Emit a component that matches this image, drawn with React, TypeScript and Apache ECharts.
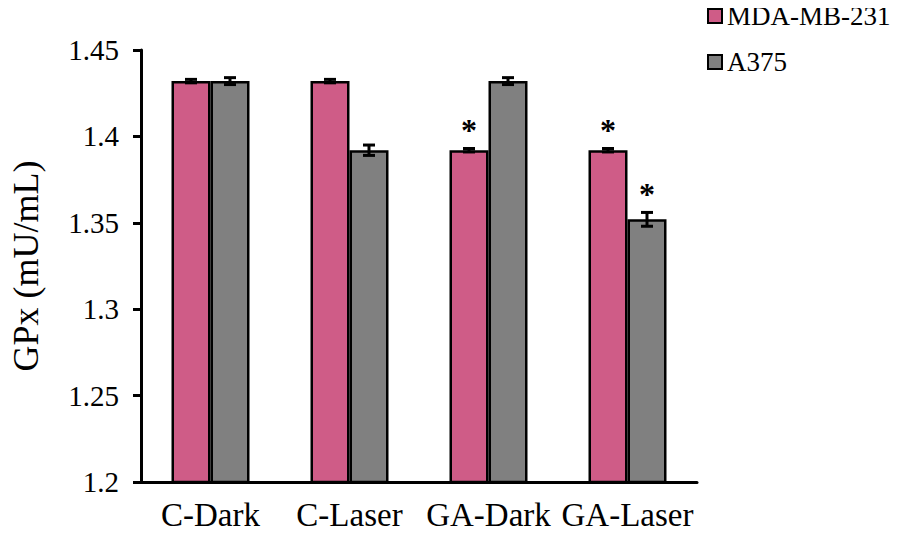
import React, { useEffect, useRef } from "react";
import * as echarts from "echarts";

const categories = ["C-Dark", "C-Laser", "GA-Dark", "GA-Laser"];
const seriesNames = ["MDA-MB-231", "A375"];
const mdaValues = [1.432, 1.432, 1.392, 1.392];
const a375Values = [1.432, 1.392, 1.432, 1.352];
const mdaErrors = [0.001, 0.001, 0.001, 0.001];
const a375Errors = [0.002, 0.003, 0.002, 0.004];
const mdaStars = [false, false, true, true];
const a375Stars = [false, false, false, true];
const yTickLabels = ["1.2", "1.25", "1.3", "1.35", "1.4", "1.45"];

const colors = ["#CF5C87", "#808080"];
const FONT = "Times New Roman, Liberation Serif, DejaVu Serif, serif";
const BAR_W = 39;

export default function App() {
  const ref = useRef<HTMLDivElement>(null);
  useEffect(() => {
    if (!ref.current) return;
    const chart = echarts.init(ref.current, null, { renderer: "svg" });
    const values = [mdaValues, a375Values];
    const errors = [mdaErrors, a375Errors];
    const stars = [mdaStars, a375Stars];

    const errSeries = values.map((vals, si) => ({
      type: "custom",
      name: seriesNames[si] + " err",
      z: 10,
      silent: true,
      data: vals.map((v, i) => [i, v, errors[si][i], stars[si][i] ? 1 : 0]),
      renderItem: (params: any, api: any) => {
        const idx = api.value(0);
        const v = api.value(1);
        const e = api.value(2);
        const star = api.value(3);
        const off = (si === 0 ? -1 : 1) * (BAR_W / 2);
        const x = api.coord([idx, v])[0] + off;
        const yHi = api.coord([idx, v + e])[1];
        const yLo = api.coord([idx, v - e])[1];
        const st = { stroke: "#000", lineWidth: 3 };
        const children: any[] = [
          { type: "line", shape: { x1: x, y1: yHi, x2: x, y2: yLo }, style: st },
          { type: "line", shape: { x1: x - 6, y1: yHi, x2: x + 6, y2: yHi }, style: st },
          { type: "line", shape: { x1: x - 6, y1: yLo, x2: x + 6, y2: yLo }, style: st },
        ];
        if (star) {
          children.push({
            type: "text",
            x: x,
            y: yHi - 18,
            style: {
              text: "*",
              fill: "#000",
              fontFamily: FONT,
              fontWeight: "bold",
              fontSize: 32,
              textAlign: "center",
              textVerticalAlign: "middle",
            },
          });
        }
        return { type: "group", children };
      },
    }));

    chart.setOption({
      animation: false,
      backgroundColor: "#fff",
      textStyle: { fontFamily: FONT },
      grid: { left: 134, right: 201, top: 50, bottom: 59, containLabel: false },
      legend: {
        data: seriesNames,
        orient: "vertical",
        left: 702,
        top: -4,
        itemWidth: 14,
        itemHeight: 14,
        itemGap: 16,
        icon: "rect",
        textStyle: { fontFamily: FONT, fontSize: 27, color: "#000", lineHeight: 30 },
      },
      xAxis: {
        type: "category",
        data: categories,
        axisLine: { lineStyle: { color: "#000", width: 3 } },
        axisTick: { alignWithLabel: true, length: 8, lineStyle: { color: "#000", width: 3 } },
        axisLabel: { interval: 0, fontFamily: FONT, fontSize: 33, color: "#000", margin: 16 },
      },
      yAxis: {
        type: "value",
        min: 1.2,
        max: 1.45,
        interval: 0.05,
        name: "GPx (mU/mL)",
        nameLocation: "middle",
        nameGap: 97,
        nameTextStyle: { fontFamily: FONT, fontSize: 36, color: "#000" },
        axisLine: { show: true, lineStyle: { color: "#000", width: 3 } },
        axisTick: { show: true, length: 8, lineStyle: { color: "#000", width: 3 } },
        splitLine: { show: false },
        axisLabel: {
          fontFamily: FONT,
          fontSize: 29,
          color: "#000",
          margin: 22,
          formatter: (val: number) => {
            const i = Math.round((val - 1.2) / 0.05);
            return yTickLabels[i] ?? String(val);
          },
        },
      },
      series: [
        ...values.map((vals, si) => ({
          type: "bar",
          name: seriesNames[si],
          data: vals,
          barWidth: BAR_W,
          barGap: "0%",
          itemStyle: { color: colors[si], borderColor: "#000", borderWidth: 2.5 },
        })),
        ...errSeries,
      ],
    });
    return () => chart.dispose();
  }, []);
  return <div ref={ref} style={{ width: 898, height: 541, margin: -8 }} />;
}
